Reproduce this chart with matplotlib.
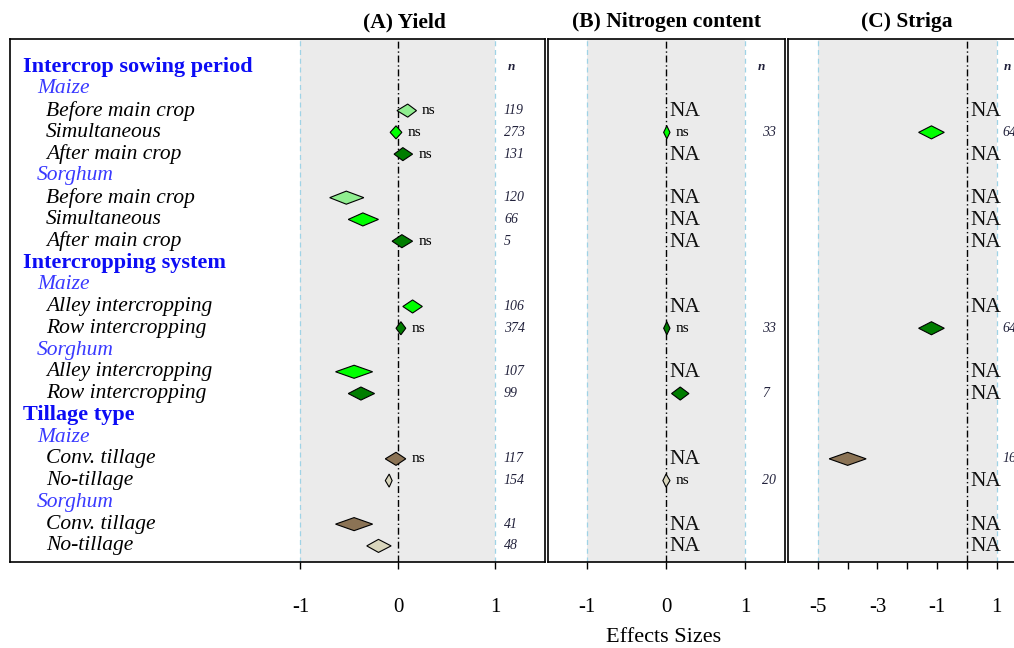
import matplotlib
matplotlib.use("Agg")
import matplotlib.pyplot as plt
from matplotlib.transforms import blended_transform_factory

plt.rcParams["font.family"] = ["Liberation Serif", "DejaVu Serif"]

# ---- row structure -------------------------------------------------------
row_labels = [
    "Intercrop sowing period", "Maize", "Before main crop", "Simultaneous",
    "After main crop", "Sorghum", "Before main crop", "Simultaneous",
    "After main crop", "Intercropping system", "Maize", "Alley intercropping",
    "Row intercropping", "Sorghum", "Alley intercropping", "Row intercropping",
    "Tillage type", "Maize", "Conv. tillage", "No-tillage", "Sorghum",
    "Conv. tillage", "No-tillage",
]
row_kinds = [
    "head", "sub", "item", "item", "item", "sub", "item", "item", "item",
    "head", "sub", "item", "item", "sub", "item", "item",
    "head", "sub", "item", "item", "sub", "item", "item",
]

item_colors = [
    "#90ee90", "#00ff00", "#007d00", "#90ee90", "#00ff00", "#007d00",
    "#00ff00", "#007d00", "#00ff00", "#007d00",
    "#8b7355", "#d8d5bc", "#8b7355", "#d8d5bc",
]

# ---- (A) Yield -----------------------------------------------------------
yield_est = [0.10, -0.02, 0.05, -0.53, -0.36, 0.04, 0.15, 0.03, -0.45, -0.38, -0.02, -0.09, -0.45, -0.20]
yield_lo = [-0.01, -0.08, -0.04, -0.70, -0.51, -0.06, 0.05, -0.02, -0.64, -0.51, -0.13, -0.13, -0.64, -0.32]
yield_hi = [0.19, 0.04, 0.15, -0.35, -0.20, 0.15, 0.25, 0.08, -0.26, -0.24, 0.08, -0.06, -0.26, -0.07]
yield_n = [119, 273, 131, 120, 66, 5, 106, 374, 107, 99, 117, 154, 41, 48]
yield_ns = [True, True, True, False, False, True, False, True, False, False, True, False, False, False]

# ---- (B) Nitrogen content --------------------------------------------------
nitro_est = [None, 0.01, None, None, None, None, None, 0.01, None, 0.18, None, 0.00, None, None]
nitro_lo = [None, -0.03, None, None, None, None, None, -0.03, None, 0.07, None, -0.04, None, None]
nitro_hi = [None, 0.05, None, None, None, None, None, 0.05, None, 0.29, None, 0.05, None, None]
nitro_n = [None, 33, None, None, None, None, None, 33, None, 7, None, 20, None, None]
nitro_ns = [False, True, False, False, False, False, False, True, False, False, False, True, False, False]

# ---- (C) Striga ------------------------------------------------------------
striga_est = [None, -1.19, None, None, None, None, None, -1.19, None, None, -4.00, None, None, None]
striga_lo = [None, -1.62, None, None, None, None, None, -1.62, None, None, -4.62, None, None, None]
striga_hi = [None, -0.76, None, None, None, None, None, -0.76, None, None, -3.38, None, None, None]
striga_n = [None, 64, None, None, None, None, None, 64, None, None, 16, None, None, None]
striga_ns = [False] * 14

panel_titles = ["(A) Yield", "(B) Nitrogen content", "(C) Striga"]

# ---- figure ---------------------------------------------------------------
W, H = 1014, 648
fig = plt.figure(figsize=(W / 100, H / 100), dpi=100)


def px_axes(x0, x1, y0, y1):
    return fig.add_axes([x0 / W, 1 - y1 / H, (x1 - x0) / W, (y1 - y0) / H])


axA = px_axes(10, 545, 39, 562)
axB = px_axes(548, 785, 39, 562)
axC = px_axes(788, 1040, 39, 562)

item_rows = [i for i, k in enumerate(row_kinds) if k == "item"]

panels = [
    dict(ax=axA, xlim=(-3.979, 1.508), band=(-1, 1), est=yield_est, lo=yield_lo,
         hi=yield_hi, n=yield_n, ns=yield_ns, nx=1.087, nhx=1.125, title_x=0.07,
         ticks=[-1, 0, 1], ticklabels=["-1", "0", "1"], na=False),
    dict(ax=axB, xlim=(-1.494, 1.506), band=(-1, 1), est=nitro_est, lo=nitro_lo,
         hi=nitro_hi, n=nitro_n, ns=nitro_ns, nx=1.215, nhx=1.165, title_x=0.0,
         ticks=[-1, 0, 1], ticklabels=["-1", "0", "1"], na=True),
    dict(ax=axC, xlim=(-6.0, 2.45), band=(-5, 1), est=striga_est, lo=striga_lo,
         hi=striga_hi, n=striga_n, ns=striga_ns, nx=1.2, nhx=1.23, title_x=-2.03,
         ticks=list(range(-5, 2)), ticklabels=["-5", "", "-3", "", "-1", "", "1"], na=True),
]

half_h = 0.30
n_color = "#22223c"

for p in panels:
    ax = p["ax"]
    ax.set_xlim(*p["xlim"])
    ax.set_ylim(22.74, -1.29)
    ax.axvspan(p["band"][0], p["band"][1], color="#ebebeb", zorder=0, lw=0)
    for b in p["band"]:
        ax.axvline(b, color="#9fd3e6", lw=0.9, ls=(0, (4, 3)), zorder=1)
    ax.axvline(0, color="black", lw=1.0, ls=(0, (5, 2, 1, 2)), zorder=2)

    ax.text(p["nhx"], 0, "n", ha="left", va="center", fontsize=9.5,
            style="italic", fontweight="bold", color=n_color)

    for k, r in enumerate(item_rows):
        e = p["est"][k]
        if e is None:
            if p["na"]:
                ax.text(0.04 * (p["xlim"][1] - p["xlim"][0]) / 3.0, r + 0.05, "NA",
                        ha="left", va="center", fontsize=15.5, color="#111111", zorder=4)
            continue
        lo, hi = p["lo"][k], p["hi"][k]
        ax.fill([lo, e, hi, e], [r, r - half_h, r, r + half_h],
                facecolor=item_colors[k], edgecolor="black", lw=0.8, zorder=3)
        if p["ns"][k]:
            ax.annotate("ns", xy=(hi, r), xytext=(4, 0), textcoords="offset points",
                        ha="left", va="center", fontsize=11, zorder=4)
        ax.text(p["nx"], r, str(p["n"][k]), ha="left", va="center", fontsize=10,
                style="italic", color=n_color)

    ax.set_yticks([])
    ax.set_xticks(p["ticks"])
    ax.set_xticklabels(p["ticklabels"])
    ax.tick_params(axis="x", direction="out", length=5, width=1, pad=21, labelsize=15)
    for s in ax.spines.values():
        s.set_linewidth(1.2)

    tr = blended_transform_factory(ax.transData, ax.transAxes)
    ax.text(p["title_x"], 1.032, panel_titles[panels.index(p)], transform=tr,
            ha="center", va="center", fontsize=15.5, fontweight="bold")

# ---- row labels in the yield panel ----------------------------------------
trA = blended_transform_factory(axA.transAxes, axA.transData)
for r, (lab, kind) in enumerate(zip(row_labels, row_kinds)):
    if kind == "head":
        axA.text(13 / 535, r, lab, transform=trA, ha="left", va="center",
                 fontsize=16, fontweight="bold", color="#0c0cf5")
    elif kind == "sub":
        axA.text(27 / 535, r, lab, transform=trA, ha="left", va="center",
                 fontsize=15.5, style="italic", color="#3a3aff")
    else:
        axA.text(36 / 535, r, lab, transform=trA, ha="left", va="center",
                 fontsize=15.5, style="italic", color="black")

fig.text(664 / W, 1 - 637 / H, "Effects Sizes", ha="center", va="center", fontsize=16)

fig.savefig("out.png", dpi=100)
